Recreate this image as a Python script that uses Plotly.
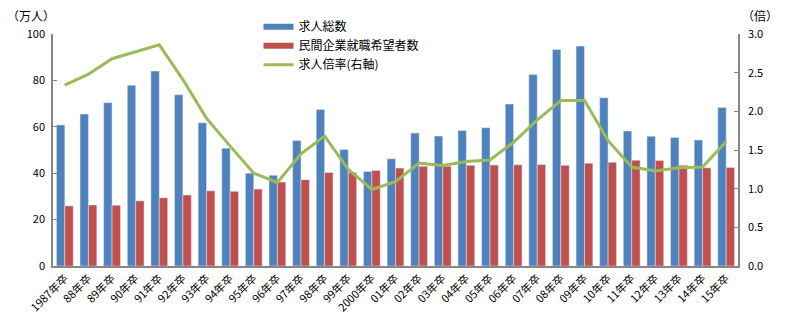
import plotly.graph_objects as go

categories = ["1987年卒", "88年卒", "89年卒", "90年卒", "91年卒", "92年卒", "93年卒", "94年卒",
              "95年卒", "96年卒", "97年卒", "98年卒", "99年卒", "2000年卒", "01年卒", "02年卒",
              "03年卒", "04年卒", "05年卒", "06年卒", "07年卒", "08年卒", "09年卒", "10年卒",
              "11年卒", "12年卒", "13年卒", "14年卒", "15年卒"]
openings = [60.8, 65.5, 70.4, 77.9, 84.0, 73.8, 61.7, 50.8, 40.0, 39.1, 54.1, 67.5, 50.2, 40.7,
            46.2, 57.3, 56.0, 58.4, 59.6, 69.8, 82.5, 93.3, 94.8, 72.5, 58.2, 55.9, 55.4, 54.3, 68.3]
applicants = [25.9, 26.3, 26.2, 28.1, 29.4, 30.6, 32.4, 32.2, 33.2, 36.2, 37.2, 40.3, 40.3, 41.2,
              42.2, 43.0, 43.0, 43.4, 43.5, 43.6, 43.7, 43.4, 44.3, 44.7, 45.6, 45.5, 43.4, 42.3, 42.5]
ratio = [2.34, 2.48, 2.68, 2.77, 2.86, 2.41, 1.91, 1.55, 1.20, 1.08, 1.45, 1.68, 1.25, 0.99,
         1.09, 1.33, 1.30, 1.35, 1.37, 1.60, 1.89, 2.14, 2.14, 1.62, 1.28, 1.23, 1.27, 1.28, 1.61]
left_ticks = [0, 20, 40, 60, 80, 100]
right_ticks = [0.0, 0.5, 1.0, 1.5, 2.0, 2.5, 3.0]

BLUE = "#4F81BD"
RED = "#C0504D"
GREEN = "#9BBB59"
AX = "#868686"
FONT = "Noto Sans CJK JP"

fig = go.Figure()
fig.add_trace(go.Bar(x=categories, y=openings, name="求人総数", marker_color=BLUE,
                     showlegend=False))
fig.add_trace(go.Bar(x=categories, y=applicants, name="民間企業就職希望者数", marker_color=RED,
                     showlegend=False))
fig.add_trace(go.Scatter(x=categories, y=ratio, name="求人倍率(右軸)", mode="lines",
                         line=dict(color=GREEN, width=3), yaxis="y2", showlegend=False))
# legend entries (Excel-style line samples)
fig.add_trace(go.Scatter(x=[None], y=[None], mode="lines", name="求人総数",
                         line=dict(color=BLUE, width=6)))
fig.add_trace(go.Scatter(x=[None], y=[None], mode="lines", name="民間企業就職希望者数",
                         line=dict(color=RED, width=6)))
fig.add_trace(go.Scatter(x=[None], y=[None], mode="lines", name="求人倍率(右軸)",
                         line=dict(color=GREEN, width=3), yaxis="y2"))

fig.update_layout(
    width=792, height=324,
    margin=dict(l=53, r=54, t=34, b=58, autoexpand=False),
    paper_bgcolor="white", plot_bgcolor="white",
    font=dict(family=FONT, size=11, color="black"),
    barmode="group", bargap=0.29, bargroupgap=0,
    xaxis=dict(type="category", tickangle=-45, showline=True, linecolor=AX, linewidth=1.5,
               ticks="", tickfont=dict(size=11), showgrid=False, automargin=False),
    yaxis=dict(range=[0, 100], tickvals=left_ticks, showline=True, linecolor=AX, linewidth=1.5,
               ticks="inside", ticklen=4, tickcolor=AX, showgrid=False, zeroline=False,
               tickfont=dict(size=11), automargin=False, ticklabelstandoff=4),
    yaxis2=dict(range=[0, 3], tickvals=right_ticks, tickformat=".1f", overlaying="y", side="right",
                showline=True, linecolor=AX, linewidth=1.5, ticks="inside", ticklen=4,
                tickcolor=AX, showgrid=False, zeroline=False, tickfont=dict(size=11),
                automargin=False, ticklabelstandoff=6),
    legend=dict(x=0.30, y=0.962, xanchor="left", yanchor="top", yref="container",
                bgcolor="rgba(0,0,0,0)", font=dict(size=12), tracegroupgap=0),
    annotations=[
        dict(text="（万人）", x=0, xref="paper", xanchor="right", xshift=4, y=1, yref="paper",
             yanchor="bottom", yshift=8, showarrow=False, font=dict(size=12)),
        dict(text="（倍）", x=1, xref="paper", xanchor="left", xshift=2, y=1, yref="paper",
             yanchor="bottom", yshift=8, showarrow=False, font=dict(size=12)),
    ],
)

fig.write_html("out.html")
